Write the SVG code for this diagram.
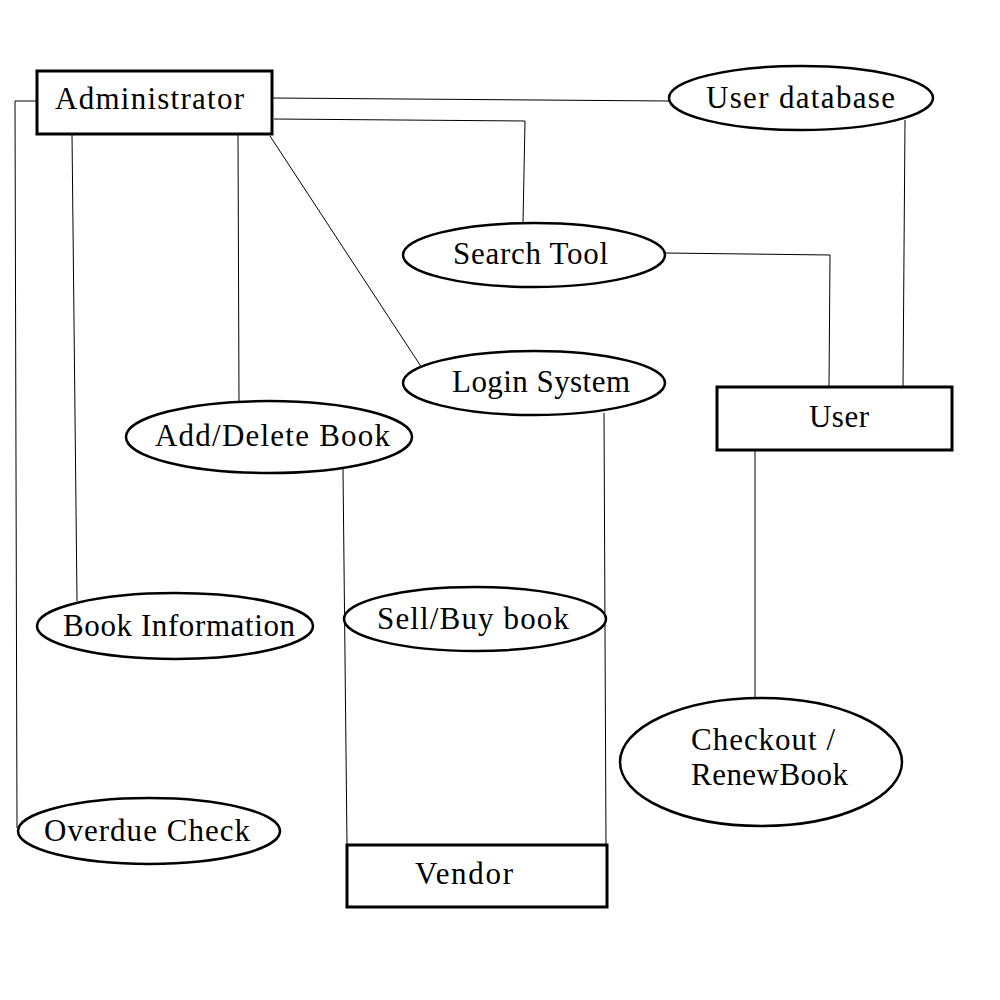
<svg xmlns="http://www.w3.org/2000/svg" width="1000" height="1000" viewBox="0 0 1000 1000">
<style>
.box{fill:#fff;stroke:#000;stroke-width:3}
.oval{fill:#fff;stroke:#000;stroke-width:2.5}
.lbl{font-family:"Liberation Serif","DejaVu Serif",serif;font-size:31px;fill:#000}
.conn line,.conn polyline{stroke:#000;stroke-width:1;fill:none}
</style>
<rect width="1000" height="1000" fill="#fff"/>
<g id="connectors" class="conn">
<polyline points="37,101 15,101 17,828"/>
<line x1="72" y1="134" x2="77" y2="601"/>
<line x1="238" y1="134" x2="239" y2="405"/>
<line x1="270" y1="136" x2="422" y2="368"/>
<line x1="272" y1="98" x2="669" y2="101"/>
<polyline points="274,119 525,121 523,223"/>
<polyline points="665,253 830,255 829,387"/>
<line x1="905" y1="120" x2="903" y2="387"/>
<line x1="755" y1="450" x2="755" y2="698"/>
<line x1="604" y1="413" x2="606" y2="845"/>
<line x1="343" y1="469" x2="347" y2="845"/>
</g>
<g id="administrator"><rect class="box" x="37" y="71" width="235" height="63"/><text class="lbl" x="55" y="109" textLength="189">Administrator</text></g>
<g id="user-database"><ellipse class="oval" cx="801" cy="98" rx="132" ry="32"/><text class="lbl" x="706" y="108" textLength="189">User database</text></g>
<g id="search-tool"><ellipse class="oval" cx="534" cy="255" rx="131" ry="32"/><text class="lbl" x="453" y="264" textLength="155">Search Tool</text></g>
<g id="login-system"><ellipse class="oval" cx="534" cy="383" rx="131" ry="32"/><text class="lbl" x="452" y="392" textLength="178">Login System</text></g>
<g id="add-delete-book"><ellipse class="oval" cx="269" cy="437" rx="143" ry="36"/><text class="lbl" x="155" y="446" textLength="235">Add/Delete Book</text></g>
<g id="user"><rect class="box" x="717" y="387" width="235" height="63"/><text class="lbl" x="809" y="427" textLength="60">User</text></g>
<g id="book-information"><ellipse class="oval" cx="175" cy="626" rx="138" ry="33"/><text class="lbl" x="63" y="636" textLength="232">Book Information</text></g>
<g id="sell-buy-book"><ellipse class="oval" cx="475" cy="619" rx="131" ry="32"/><text class="lbl" x="377" y="629" textLength="192">Sell/Buy book</text></g>
<g id="checkout-renew"><ellipse class="oval" cx="761" cy="762" rx="141" ry="64"/><text class="lbl" x="691" y="750" textLength="144">Checkout /</text><text class="lbl" x="691" y="785" textLength="157">RenewBook</text></g>
<g id="overdue-check"><ellipse class="oval" cx="149" cy="831" rx="131" ry="33"/><text class="lbl" x="44" y="841" textLength="206">Overdue Check</text></g>
<g id="vendor"><rect class="box" x="347" y="845" width="260" height="62"/><text class="lbl" x="415" y="884" textLength="98">Vendor</text></g>
</svg>
